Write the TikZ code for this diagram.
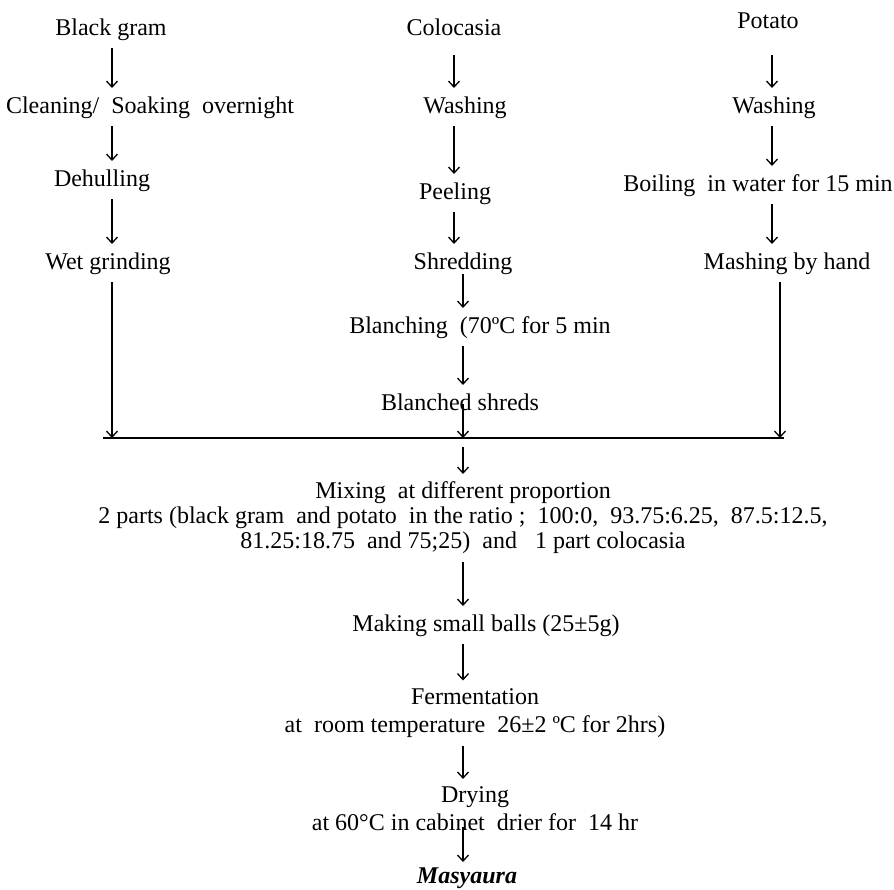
\documentclass[tikz,border=0pt]{standalone}
\usepackage{fontspec}
\setmainfont{Liberation Serif}
\usetikzlibrary{arrows.meta}

\begin{document}
\begin{tikzpicture}[x=1pt, y=-1pt,
                stepnode/.style={inner sep=0pt, outer sep=8pt, text height=17pt, text depth=5pt, font=\fontsize{24}{25}\selectfont},
                multinode/.style={inner sep=0pt, outer sep=8pt, align=center, font=\fontsize{24}{25}\selectfont},
                flow/.style={line width=1.3pt, -{Straight Barb[length=6pt,width=11pt,line width=1.3pt]}},
                ]
                \useasboundingbox (0,0) rectangle (894,889);
                %Columns
                \coordinate (colA) at (112,0);
                \coordinate (colB) at (454,0);
                \coordinate (colC) at (463,0);
                \coordinate (colD) at (772,0);
                \coordinate (colE) at (780,0);
                \coordinate (mergeL) at (103,438);
                \coordinate (mergeR) at (784,438);

                %Nodes
                \node[stepnode] (blackgram)  at (111,29)  {Black gram};
                \node[stepnode] (colocasia)  at (454,29)  {Colocasia};
                \node[stepnode] (potato)     at (768,22)  {Potato};
                \node[stepnode] (cleaning)   at (150,107) {Cleaning/\ \ Soaking\ \ overnight};
                \node[stepnode] (washingC)   at (465,107) {Washing};
                \node[stepnode] (washingP)   at (774,107) {Washing};
                \node[stepnode] (dehulling)  at (102,180) {Dehulling};
                \node[stepnode] (peeling)    at (455,193) {Peeling};
                \node[stepnode] (boiling)    at (758,185) {Boiling\ \ in water for 15 min};
                \node[stepnode] (grinding)   at (108,263) {Wet grinding};
                \node[stepnode] (shredding)  at (463,263) {Shredding};
                \node[stepnode] (mashing)    at (787,263) {Mashing by hand};
                \node[stepnode] (blanching)  at (480,327) {Blanching\ \ (70ºC for 5 min};
                \node[stepnode] (shreds)     at (460,404) {Blanched shreds};
                \node[multinode] (mixing)    at (463,518) {Mixing\ \ at different proportion\\
                    2 parts (black gram\ \ and potato\ \ in the ratio ;\ \ 100:0,\ \ 93.75:6.25,\ \ 87.5:12.5,\\
                    81.25:18.75\ \ and 75;25)\ \ and\ \ \ 1 part colocasia};
                \node[stepnode] (balls)      at (486,625) {Making small balls (25±5g)};
                \node[multinode] (ferment)   at (475,713) {Fermentation\\[3pt] at\ \ room temperature\ \ 26±2 ºC for 2hrs)};
                \node[multinode] (drying)    at (475,809) {Drying\\[3pt] at 60°C in cabinet\ \ drier for\ \ 14 hr};
                \node[stepnode] (masyaura)   at (467,877) {\textbf{\textit{Masyaura}}};

                %Lines
                \draw[flow] (blackgram.south -| colA) -- (cleaning.north -| colA);
                \draw[flow] (cleaning.south -| colA) -- (dehulling.north -| colA);
                \draw[flow] (dehulling.south -| colA) -- (grinding.north -| colA);
                \draw[flow] (grinding.south -| colA) -- (mergeL -| colA);
                \draw[flow, shorten <=7pt] (colocasia.south -| colB) -- (washingC.north -| colB);
                \draw[flow] (washingC.south -| colB) -- (peeling.north -| colB);
                \draw[flow] (peeling.south -| colB) -- (shredding.north -| colB);
                \draw[flow, shorten <=-8pt] (shredding.south -| colC) -- (blanching.north -| colC);
                \draw[flow] (blanching.south -| colC) -- (shreds.north -| colC);
                \draw[flow] (shreds.center -| colC) -- (mergeL -| colC);
                \draw[flow, shorten <=14pt] (potato.south -| colD) -- (washingP.north -| colD);
                \draw[flow] (washingP.south -| colD) -- (boiling.north -| colD);
                \draw[flow] (boiling.south -| colD) -- (mashing.north -| colD);
                \draw[flow] (mashing.south -| colE) -- (mergeR -| colE);
                \draw[line width=1.5pt] (mergeL) -- (mergeR);
                \draw[flow, shorten <=9pt] (mergeL -| colC) -- (mixing.north -| colC);
                \draw[flow] (mixing.south -| colC) -- (balls.north -| colC);
                \draw[flow] (balls.south -| colC) -- (ferment.north -| colC);
                \draw[flow] (ferment.south -| colC) -- (drying.north -| colC);
                \draw[flow, shorten <=-12pt, shorten >=-4pt] (drying.south -| colC) -- (masyaura.north -| colC);
\end{tikzpicture}
\end{document}
